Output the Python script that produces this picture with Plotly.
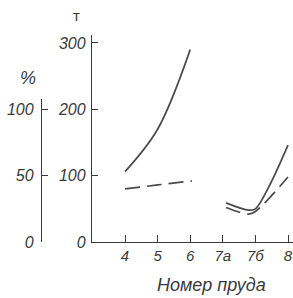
import plotly.graph_objects as go

# Categories (pond numbers) and their positions on the x axis
ponds = ["4", "5", "6", "7а", "7б", "8"]
pond_pos = [0, 1, 2, 3, 4, 5]

# Series 1 (solid, tonnes), ponds 4-6
solid_a_x = [0, 1, 2]
solid_a_y = [106, 170, 290]
# Series 1 (solid, tonnes), ponds 7а-8
solid_b_x = [3.1, 3.8, 4.0, 4.4, 5.0]
solid_b_y = [59, 48, 50, 82, 146]

# Series 2 (dashed, percent), ponds 4-6
dash_a_x = [0, 1, 2.05]
dash_a_y = [40, 43, 46]
# Series 2 (dashed, percent), ponds 7а-8
dash_b_x = [3.1, 3.8, 4.0, 5.0]
dash_b_y = [26, 21, 23, 49]

t_ticks = [0, 100, 200, 300]
pct_ticks = [0, 50, 100]

W, H = 293, 298
ML, MR, MT, MB = 41, 0, 35, 56
plot_w = W - ML - MR
plot_h = H - MT - MB
axis_x_px = 92
xdom0 = (axis_x_px - ML) / plot_w

ink = "#3a3a3a"
linec = "#4a4a4a"
fam = "Liberation Sans, Arial, sans-serif"
fnt_y = dict(family=fam, size=16, color=ink, style="italic")
fnt_x = dict(family=fam, size=15, color=ink, style="italic")

fig = go.Figure()
solid_style = dict(color=linec, width=1.7, shape="spline")
dash_style = dict(color=linec, width=1.7, shape="spline", dash="15px,7px")

fig.add_trace(go.Scatter(x=solid_a_x, y=solid_a_y, mode="lines", line=solid_style, yaxis="y", hoverinfo="skip"))
fig.add_trace(go.Scatter(x=solid_b_x, y=solid_b_y, mode="lines", line=solid_style, yaxis="y", hoverinfo="skip"))
fig.add_trace(go.Scatter(x=dash_a_x, y=dash_a_y, mode="lines", line=dash_style, yaxis="y3", hoverinfo="skip"))
fig.add_trace(go.Scatter(x=dash_b_x, y=dash_b_y, mode="lines", line=dash_style, yaxis="y3", hoverinfo="skip"))
# invisible trace so the percent axis is drawn
fig.add_trace(go.Scatter(x=[None], y=[None], mode="lines", yaxis="y2", hoverinfo="skip"))

px_per_unit_x = 32.6
x0 = (axis_x_px - 125) / px_per_unit_x
x1 = (W - 125) / px_per_unit_x

t_range_top = 312
px_per_t = plot_h / t_range_top
pct_axis_top_px = 99
dom2 = (242 - pct_axis_top_px) / plot_h
pct_top = (242 - pct_axis_top_px) / px_per_t / 2

fig.update_layout(
    width=W, height=H,
    margin=dict(l=ML, r=MR, t=MT, b=MB, autoexpand=False),
    paper_bgcolor="white", plot_bgcolor="rgba(0,0,0,0)",
    showlegend=False,
    font=dict(family=fam, size=16, color=ink),
    xaxis=dict(
        domain=[xdom0, 1], range=[x0, x1],
        tickmode="array", tickvals=pond_pos, ticktext=ponds,
        ticks="inside", ticklen=7, tickwidth=1.3, tickcolor=ink,
        showline=True, linecolor=ink, linewidth=1.3,
        showgrid=False, zeroline=False, tickfont=fnt_x,
        ticklabelstandoff=0,
    ),
    yaxis=dict(
        range=[0, t_range_top], anchor="x",
        tickmode="array", tickvals=t_ticks,
        ticks="inside", ticklen=6, tickwidth=1.3, tickcolor=ink,
        showline=True, linecolor=ink, linewidth=1.3,
        showgrid=False, zeroline=False, tickfont=fnt_y,
        ticklabelstandoff=2,
    ),
    yaxis2=dict(
        domain=[0, dom2], range=[0, pct_top], anchor="free", position=0,
        tickmode="array", tickvals=pct_ticks,
        ticks="inside", ticklen=6, tickwidth=1.3, tickcolor=ink,
        showline=True, linecolor=ink, linewidth=1.3,
        showgrid=False, zeroline=False, tickfont=fnt_y,
        ticklabelstandoff=4,
    ),
    yaxis3=dict(range=[0, t_range_top / 2], overlaying="y", visible=False),
)

fig.add_annotation(text="Номер пруда", xref="x", yref="paper",
                   x=(211 - 125) / px_per_unit_x, y=(242 - 285) / plot_h,
                   showarrow=False, font=dict(family=fam, size=18, color=ink, style="italic"),
                   xanchor="center", yanchor="middle")
fig.add_annotation(text="т", xref="paper", yref="paper",
                   x=(76 - ML) / plot_w, y=(242 - 15) / plot_h,
                   showarrow=False, font=dict(family=fam, size=15, color=ink, style="normal"),
                   xanchor="center", yanchor="middle")
fig.add_annotation(text="%", xref="paper", yref="paper",
                   x=(28 - ML) / plot_w, y=(242 - 78) / plot_h,
                   showarrow=False, font=dict(family=fam, size=18, color=ink, style="italic"),
                   xanchor="center", yanchor="middle")

fig.write_html("out.html", config={"displayModeBar": False},
               post_script="document.body.style.margin='0';")
